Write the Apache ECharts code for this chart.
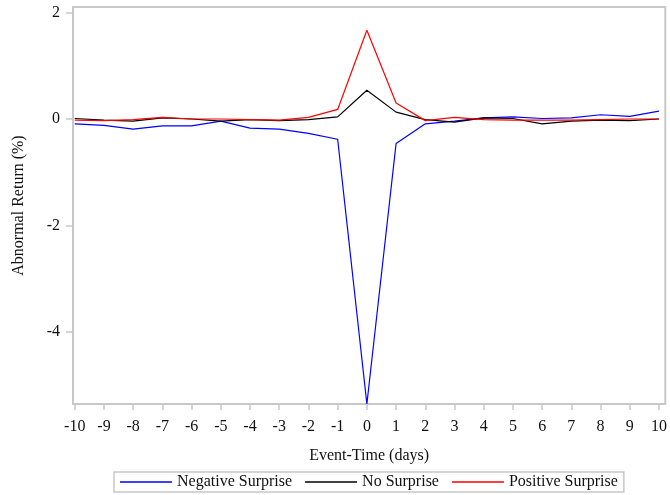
<!DOCTYPE html>
<html>
<head>
<meta charset="utf-8">
<script src="https://cdn.jsdelivr.net/npm/echarts@6/dist/echarts.min.js"></script>
<style>
  html, body { margin: 0; padding: 0; background: #fff; }
  #chart { width: 670px; height: 495px; }
</style>
</head>
<body>
<div id="chart"></div>
<script>
// event days around the announcement
const days = [-10, -9, -8, -7, -6, -5, -4, -3, -2, -1, 0, 1, 2, 3, 4, 5, 6, 7, 8, 9, 10]

// abnormal return (%) per group
const negativeSurprise = [-0.09, -0.12, -0.19, -0.13, -0.13, -0.04, -0.17, -0.19, -0.27, -0.38, -5.36, -0.46, -0.09, -0.04, 0.02, 0.04, 0.01, 0.02, 0.08, 0.05, 0.15]
const noSurprise = [0.01, -0.02, -0.04, 0.02, 0.0, -0.04, -0.01, -0.03, -0.01, 0.04, 0.54, 0.13, -0.01, -0.06, 0.02, 0.01, -0.09, -0.04, -0.02, -0.03, 0.0]
const positiveSurprise = [-0.02, -0.03, -0.01, 0.03, 0.0, 0.0, -0.01, -0.02, 0.03, 0.18, 1.67, 0.3, -0.03, 0.03, -0.01, -0.02, -0.02, -0.02, -0.01, 0.0, 0.0]

const yTicks = [-4, -2, 0, 2]

const font = 'Liberation Serif'
const frameColor = '#c8c8c8'
const textColor = '#111'

const pairs = (vals) => days.map((d, i) => [d, vals[i]])

const chart = echarts.init(document.getElementById('chart'), null, { renderer: 'canvas' })

const line = (name, color, vals) => ({
  name: name,
  type: 'line',
  data: pairs(vals),
  symbol: 'none',
  lineStyle: { color: color, width: 1.2 },
  itemStyle: { color: color },
  animation: false,
})

chart.setOption({
  backgroundColor: '#fff',
  grid: {
    show: true,
    left: 73,
    top: 7,
    width: 594,
    height: 397,
    borderColor: frameColor,
    borderWidth: 2,
    backgroundColor: 'transparent',
  },
  xAxis: {
    type: 'value',
    min: -10.06,
    max: 10.215,
    name: 'Event-Time (days)',
    nameLocation: 'middle',
    nameGap: 44,
    nameTextStyle: { fontFamily: font, fontSize: 16, color: textColor },
    axisLine: { show: false, onZero: false },
    axisTick: { show: true, length: 6, lineStyle: { color: frameColor, width: 1.5 }, customValues: days },
    axisLabel: { fontFamily: font, fontSize: 16, color: textColor, margin: 15, customValues: days },
    splitLine: { show: false },
  },
  yAxis: {
    type: 'value',
    min: -5.36,
    max: 2.107,
    name: 'Abnormal Return (%)',
    nameLocation: 'middle',
    nameGap: 46,
    nameTextStyle: { fontFamily: font, fontSize: 16, color: textColor },
    axisLine: { show: false, onZero: false },
    axisTick: { show: true, length: 7, lineStyle: { color: frameColor, width: 1.5 }, customValues: yTicks },
    axisLabel: { fontFamily: font, fontSize: 16, color: textColor, margin: 13, customValues: yTicks },
    splitLine: { show: false },
  },
  legend: {
    left: 114,
    bottom: 3,
    padding: [2, 6],
    itemGap: 13,
    itemWidth: 52,
    itemHeight: 1.3,
    icon: 'rect',
    borderColor: frameColor,
    borderWidth: 1.5,
    textStyle: { fontFamily: font, fontSize: 16, color: textColor },
    data: ['Negative Surprise', 'No Surprise', 'Positive Surprise'],
  },
  series: [
    line('Negative Surprise', '#0000ff', negativeSurprise),
    line('No Surprise', '#000000', noSurprise),
    line('Positive Surprise', '#ff0000', positiveSurprise),
  ],
})
</script>
</body>
</html>
